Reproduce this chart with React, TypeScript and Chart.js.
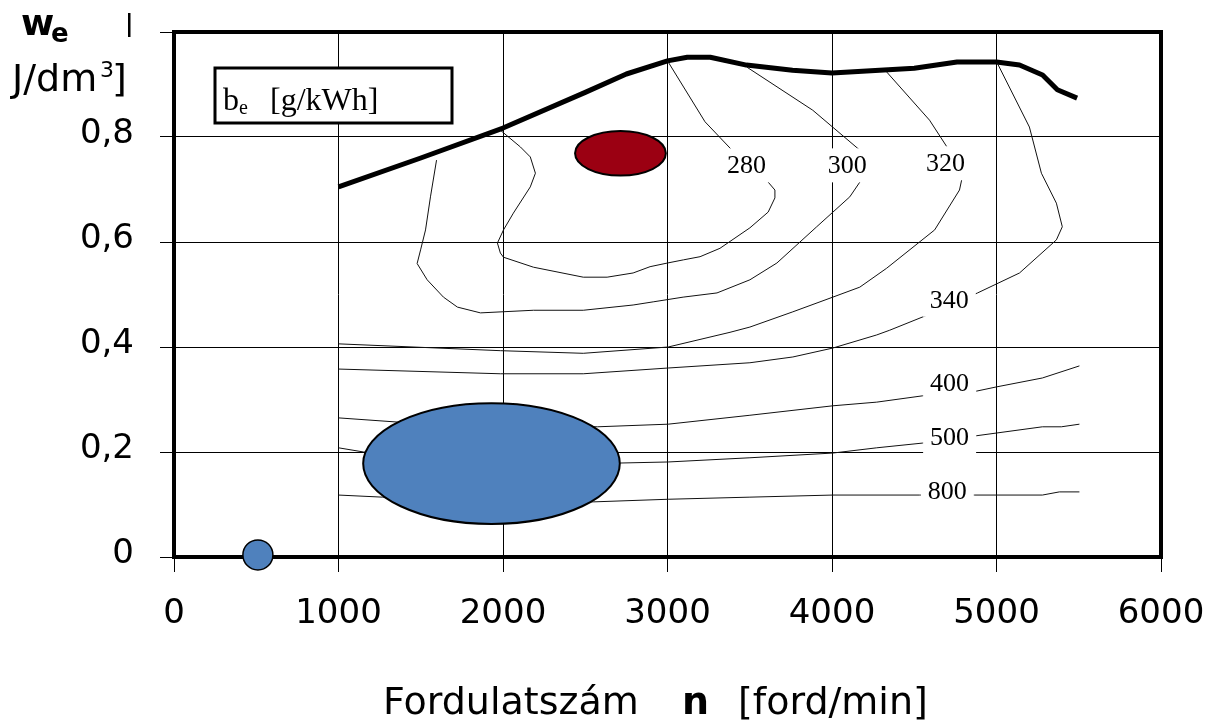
import { useEffect, useRef } from 'react';
import { Chart, registerables } from 'chart.js';

Chart.register(...registerables);

// ---- data (engine speed n [ford/min], w_e [kJ/dm3]) ----
const fullLoad: [number, number][] = [
  [1000, 0.705], [1500, 0.76], [2000, 0.817], [2500, 0.885], [2750, 0.92], [3000, 0.945],
  [3120, 0.952], [3260, 0.952], [3480, 0.937], [3760, 0.927], [4000, 0.922], [4500, 0.931],
  [4760, 0.943], [5000, 0.943], [5140, 0.937], [5280, 0.918], [5370, 0.89], [5490, 0.874],
];

const be280: [number, number][] = [
  [1984, 0.813], [2106, 0.781], [2166, 0.762], [2197, 0.731], [2166, 0.705], [2063, 0.655],
  [2003, 0.623], [1966, 0.598], [1984, 0.579], [2003, 0.571], [2185, 0.552], [2488, 0.533],
  [2633, 0.533], [2791, 0.541], [2894, 0.553], [3000, 0.56], [3097, 0.566], [3198, 0.572],
  [3319, 0.588], [3501, 0.627], [3612, 0.657], [3653, 0.684], [3653, 0.699], [3612, 0.714],
  [3392, 0.775], [3228, 0.829], [3000, 0.945],
];

const be300: [number, number][] = [
  [1596, 0.756], [1559, 0.686], [1529, 0.623], [1499, 0.585], [1478, 0.559], [1539, 0.528],
  [1638, 0.495], [1723, 0.476], [1863, 0.465], [2185, 0.47], [2488, 0.47], [2791, 0.48],
  [2913, 0.486], [3095, 0.495], [3301, 0.503], [3501, 0.528], [3665, 0.56], [3907, 0.629],
  [4108, 0.686], [4169, 0.714], [4169, 0.775], [3883, 0.851], [3483, 0.933],
];

const be320: [number, number][] = [
  [1000, 0.406], [1984, 0.393], [2488, 0.388], [3004, 0.4], [3380, 0.428], [3501, 0.438],
  [3762, 0.467], [4005, 0.495], [4169, 0.514], [4332, 0.55], [4624, 0.623], [4775, 0.699],
  [4788, 0.718], [4703, 0.779], [4593, 0.832], [4332, 0.924],
];

const be340: [number, number][] = [
  [1000, 0.358], [1984, 0.349], [2488, 0.349], [3004, 0.36], [3501, 0.37], [3762, 0.381],
  [4005, 0.398], [4272, 0.423], [4351, 0.432], [4581, 0.461], [4885, 0.503], [5140, 0.541],
  [5364, 0.604], [5400, 0.629], [5364, 0.674], [5273, 0.731], [5200, 0.819], [5006, 0.94],
];

const be400: [number, number][] = [
  [1000, 0.265], [1359, 0.257], [2573, 0.248], [3004, 0.253], [3501, 0.27], [4005, 0.288],
  [4272, 0.295], [4551, 0.307], [4879, 0.316], [5000, 0.324], [5279, 0.341], [5504, 0.364],
];

const be500: [number, number][] = [
  [1000, 0.208], [1153, 0.2], [2712, 0.179], [3004, 0.181], [3501, 0.189], [4005, 0.198],
  [4272, 0.208], [4551, 0.217], [4879, 0.231], [5279, 0.248], [5394, 0.248], [5504, 0.253],
];

const be800: [number, number][] = [
  [1000, 0.118], [1268, 0.114], [2549, 0.105], [3004, 0.11], [3501, 0.114], [4005, 0.118],
  [4533, 0.118], [4867, 0.118], [5279, 0.118], [5382, 0.124], [5504, 0.124],
];

const contourLabels = ['280', '300', '320', '340', '400', '500', '800'];
const contourLabelN = [3481, 4093, 4690, 4713, 4715, 4715, 4701];
const contourLabelW = [0.746, 0.746, 0.75, 0.49, 0.332, 0.229, 0.125];

// ellipses: centre n, centre w, half-width in n, half-height in w
const ellipseN = [1930, 2714];
const ellipseW = [0.178, 0.769];
const ellipseDn = [780, 276];
const ellipseDw = [0.115, 0.0425];
const ellipseColor = ['#4F81BD', '#9B0012'];

const idlePoint: [number, number][] = [[510, 0.004]];

const xTicks = [0, 1000, 2000, 3000, 4000, 5000, 6000];
const yTicks = [0, 0.2, 0.4, 0.6, 0.8, 1.0];

const SANS = "'DejaVu Sans', sans-serif";
const SERIF = "'Liberation Serif', 'Times New Roman', serif";

const toXY = (arr: [number, number][]) => arr.map(([x, y]) => ({ x, y }));

const contourDs = (arr: [number, number][]) => ({
  data: toXY(arr),
  showLine: true,
  borderColor: '#111',
  borderWidth: 1,
  pointRadius: 0,
  tension: 0,
  fill: false,
});

const framePlugin = {
  id: 'frame',
  beforeDatasetsDraw(chart: any) {
    const { ctx, chartArea: a } = chart;
    ctx.save();
    ctx.strokeStyle = '#000';
    ctx.lineWidth = 4;
    ctx.strokeRect(a.left, a.top, a.right - a.left, a.bottom - a.top);
    ctx.restore();
  },
};

const overlayPlugin = {
  id: 'overlay',
  afterDatasetsDraw(chart: any) {
    const { ctx, chartArea: a } = chart;
    const xs = chart.scales.x;
    const ys = chart.scales.y;
    ctx.save();
    // ellipses
    for (let i = 0; i < ellipseN.length; i++) {
      const cx = xs.getPixelForValue(ellipseN[i]);
      const cy = ys.getPixelForValue(ellipseW[i]);
      const rx = Math.abs(xs.getPixelForValue(ellipseN[i] + ellipseDn[i]) - cx);
      const ry = Math.abs(ys.getPixelForValue(ellipseW[i] + ellipseDw[i]) - cy);
      ctx.beginPath();
      ctx.ellipse(cx, cy, rx, ry, 0, 0, Math.PI * 2);
      ctx.fillStyle = ellipseColor[i];
      ctx.fill();
      ctx.lineWidth = 2;
      ctx.strokeStyle = '#000';
      ctx.stroke();
    }
    // contour labels
    ctx.font = `26px ${SERIF}`;
    ctx.textAlign = 'center';
    ctx.textBaseline = 'middle';
    for (let i = 0; i < contourLabels.length; i++) {
      const px = xs.getPixelForValue(contourLabelN[i]);
      const py = ys.getPixelForValue(contourLabelW[i]);
      const w = ctx.measureText(contourLabels[i]).width + 14;
      ctx.fillStyle = '#fff';
      ctx.fillRect(px - w / 2, py - 17, w, 34);
      ctx.fillStyle = '#000';
      ctx.fillText(contourLabels[i], px, py + 1);
    }
    // legend box b_e [g/kWh]
    const bx = a.left + 41;
    const by = a.top + 36;
    const bw = 237;
    const bh = 55;
    ctx.fillStyle = '#fff';
    ctx.fillRect(bx, by, bw, bh);
    ctx.lineWidth = 3;
    ctx.strokeStyle = '#000';
    ctx.strokeRect(bx, by, bw, bh);
    ctx.fillStyle = '#000';
    ctx.textAlign = 'left';
    ctx.textBaseline = 'alphabetic';
    ctx.font = `32px ${SERIF}`;
    ctx.fillText('b', bx + 8, by + 42);
    ctx.font = `20px ${SERIF}`;
    ctx.fillText('e', bx + 24, by + 46);
    ctx.font = `32px ${SERIF}`;
    ctx.fillText('[g/kWh]', bx + 55, by + 42);
    ctx.restore();
  },
  afterDraw(chart: any) {
    const { ctx } = chart;
    ctx.save();
    ctx.fillStyle = '#000';
    ctx.textAlign = 'left';
    ctx.textBaseline = 'alphabetic';
    // y-axis title
    ctx.font = `bold 36px ${SANS}`;
    ctx.fillText('w', 21, 35);
    ctx.font = `bold 26px ${SANS}`;
    ctx.fillText('e', 51, 42);
    ctx.fillRect(128, 13, 2.5, 24);
    ctx.font = `38px ${SANS}`;
    ctx.fillText('J/dm', 12, 91);
    ctx.font = `22px ${SANS}`;
    ctx.fillText('3', 100, 77);
    ctx.font = `38px ${SANS}`;
    ctx.fillText(']', 112, 91);
    // x-axis title
    ctx.font = `38px ${SANS}`;
    ctx.fillText('Fordulatszám', 383, 714);
    ctx.font = `bold 38px ${SANS}`;
    ctx.fillText('n', 682, 714);
    ctx.font = `38px ${SANS}`;
    ctx.fillText('[ford/min]', 738, 714);
    ctx.restore();
  },
};

export default function App() {
  const ref = useRef<HTMLCanvasElement>(null);
  useEffect(() => {
    if (!ref.current) return;
    const chart = new Chart(ref.current, {
      type: 'scatter',
      data: {
        datasets: [
          contourDs(be280),
          contourDs(be300),
          contourDs(be320),
          contourDs(be340),
          contourDs(be400),
          contourDs(be500),
          contourDs(be800),
          {
            data: toXY(fullLoad),
            showLine: true,
            borderColor: '#000',
            borderWidth: 5,
            pointRadius: 0,
            tension: 0,
            borderJoinStyle: 'round',
          } as any,
          {
            data: toXY(idlePoint),
            pointRadius: 15,
            pointHoverRadius: 15,
            backgroundColor: '#4F81BD',
            borderColor: '#000',
            borderWidth: 1.5,
            clip: false,
          } as any,
        ],
      },
      options: {
        responsive: false,
        animation: false,
        events: [],
        layout: { padding: { top: 32, right: 48, left: 0, bottom: 0 } },
        plugins: {
          legend: { display: false },
          tooltip: { enabled: false },
          title: { display: false },
        },
        scales: {
          x: {
            type: 'linear',
            min: 0,
            max: 6000,
            afterBuildTicks: (s: any) => {
              s.ticks = xTicks.map((v) => ({ value: v }));
            },
            afterFit: (s: any) => {
              s.height = 165;
              s.paddingLeft = 0;
              s.paddingRight = 0;
            },
            ticks: {
              color: '#000',
              font: { family: SANS, size: 34 },
              padding: 22,
              maxRotation: 0,
              autoSkip: false,
              callback: (v: any) => String(v),
            },
            grid: { color: '#000', lineWidth: 1, tickLength: 15, drawTicks: true },
            border: { display: false },
          },
          y: {
            type: 'linear',
            min: 0,
            max: 1,
            afterBuildTicks: (s: any) => {
              s.ticks = yTicks.map((v) => ({ value: v }));
            },
            afterFit: (s: any) => {
              s.width = 174;
              s.paddingTop = 0;
              s.paddingBottom = 0;
            },
            ticks: {
              color: '#000',
              font: { family: SANS, size: 34 },
              padding: 26,
              labelOffset: -3,
              autoSkip: false,
              callback: (v: any) => {
                const n = Number(v);
                if (Math.abs(n - 1) < 1e-9) return '';
                if (n === 0) return '0';
                return n.toFixed(1).replace('.', ',');
              },
            },
            grid: { color: '#000', lineWidth: 1, tickLength: 14, drawTicks: true },
            border: { display: false },
          },
        },
      },
      plugins: [framePlugin, overlayPlugin],
    });
    return () => chart.destroy();
  }, []);
  return (
    <div style={{ position: 'absolute', left: 0, top: 0, width: 1209, height: 722, background: '#fff' }}>
      <canvas ref={ref} width={1209} height={722} style={{ display: 'block', width: 1209, height: 722 }} />
    </div>
  );
}
